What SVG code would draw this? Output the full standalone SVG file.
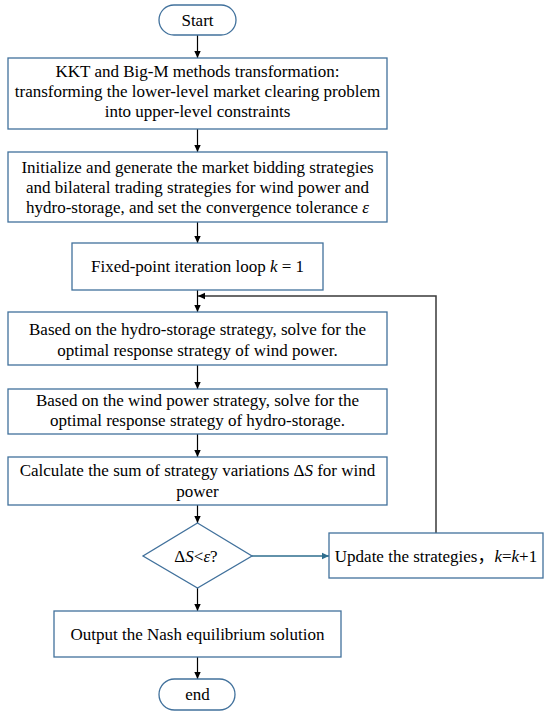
<svg xmlns="http://www.w3.org/2000/svg" width="550" height="714" viewBox="0 0 550 714">
<style>
.box{fill:#fff;stroke:#41719c;stroke-width:1.3}
.t{font-family:'Liberation Serif','Noto Sans CJK SC',serif;font-size:17px;fill:#000;text-anchor:middle}
.i{font-style:italic}
.ln{stroke:#000;stroke-width:1.2;fill:none}
</style>
<defs>
<marker id="ah" markerWidth="8" markerHeight="8" refX="7" refY="4" orient="auto" markerUnits="userSpaceOnUse"><path d="M0,0.8 L7,4 L0,7.2 Z" fill="#000"/></marker>
<marker id="ahb" markerWidth="8" markerHeight="8" refX="7" refY="4" orient="auto" markerUnits="userSpaceOnUse"><path d="M0,0.8 L7,4 L0,7.2 Z" fill="#2e6e8e"/></marker>
</defs>
<rect width="550" height="714" fill="#fff"/>
<g id="connectors">
<line class="ln" x1="197.5" y1="35" x2="197.5" y2="58" marker-end="url(#ah)"/>
<line class="ln" x1="197.5" y1="129" x2="197.5" y2="152" marker-end="url(#ah)"/>
<line class="ln" x1="197.5" y1="222" x2="197.5" y2="243" marker-end="url(#ah)"/>
<line class="ln" x1="197.5" y1="290" x2="197.5" y2="312" marker-end="url(#ah)"/>
<line class="ln" x1="197.5" y1="365" x2="197.5" y2="389" marker-end="url(#ah)"/>
<line class="ln" x1="197.5" y1="434" x2="197.5" y2="457" marker-end="url(#ah)"/>
<line class="ln" x1="197.5" y1="505" x2="197.5" y2="523" marker-end="url(#ah)"/>
<line class="ln" x1="197.5" y1="588" x2="197.5" y2="611" marker-end="url(#ah)"/>
<line class="ln" x1="197.5" y1="657" x2="197.5" y2="679" marker-end="url(#ah)"/>
<line x1="252" y1="556" x2="329" y2="556" stroke="#2e6e8e" stroke-width="1.3" marker-end="url(#ahb)"/>
<polyline points="436,533 436,296 198,296" fill="none" stroke="#3a3a3a" stroke-width="1.5" marker-end="url(#ah)"/>
</g>
<g id="start">
<rect class="box" x="159" y="5" width="77" height="30" rx="15" ry="15"/>
<text class="t" x="197.5" y="26">Start</text>
</g>
<g id="kkt">
<rect class="box" x="8" y="58" width="379" height="71"/>
<text class="t" x="197.5" y="77">KKT and Big-M methods transformation:</text>
<text class="t" x="197.5" y="97">transforming the lower-level market clearing problem</text>
<text class="t" x="197.5" y="117">into upper-level constraints</text>
</g>
<g id="init">
<rect class="box" x="8" y="152" width="379" height="70"/>
<text class="t" x="197.5" y="173">Initialize and generate the market bidding strategies</text>
<text class="t" x="197.5" y="193">and bilateral trading strategies for wind power and</text>
<text class="t" x="197.5" y="213">hydro-storage, and set the convergence tolerance <tspan class="i">ε</tspan></text>
</g>
<g id="loop">
<rect class="box" x="72" y="243" width="251" height="47"/>
<text class="t" x="197.5" y="272">Fixed-point iteration loop <tspan class="i">k</tspan> = 1</text>
</g>
<g id="wind">
<rect class="box" x="8" y="312" width="379" height="53"/>
<text class="t" x="197.5" y="335">Based on the hydro-storage strategy, solve for the</text>
<text class="t" x="197.5" y="356">optimal response strategy of wind power.</text>
</g>
<g id="hydro">
<rect class="box" x="8" y="389" width="379" height="45"/>
<text class="t" x="197.5" y="406">Based on the wind power strategy, solve for the</text>
<text class="t" x="197.5" y="426">optimal response strategy of hydro-storage.</text>
</g>
<g id="calc">
<rect class="box" x="8" y="457" width="379" height="48"/>
<text class="t" x="197.5" y="476">Calculate the sum of strategy variations Δ<tspan class="i">S</tspan> for wind</text>
<text class="t" x="197.5" y="497">power</text>
</g>
<g id="decision">
<polygon class="box" points="197.5,523 252,556 197.5,588 143,556"/>
<text class="t" x="196" y="562">Δ<tspan class="i">S</tspan>&lt;<tspan class="i">ε</tspan>?</text>
</g>
<g id="update">
<rect class="box" x="329" y="533" width="214" height="45"/>
<text class="t" x="436" y="562">Update the strategies，<tspan class="i">k</tspan>=<tspan class="i">k</tspan>+1</text>
</g>
<g id="output">
<rect class="box" x="54" y="611" width="287" height="46"/>
<text class="t" x="197.5" y="640">Output the Nash equilibrium solution</text>
</g>
<g id="end">
<rect class="box" x="159" y="679" width="76" height="31" rx="15.5" ry="15.5"/>
<text class="t" x="197.5" y="700">end</text>
</g>
</svg>
